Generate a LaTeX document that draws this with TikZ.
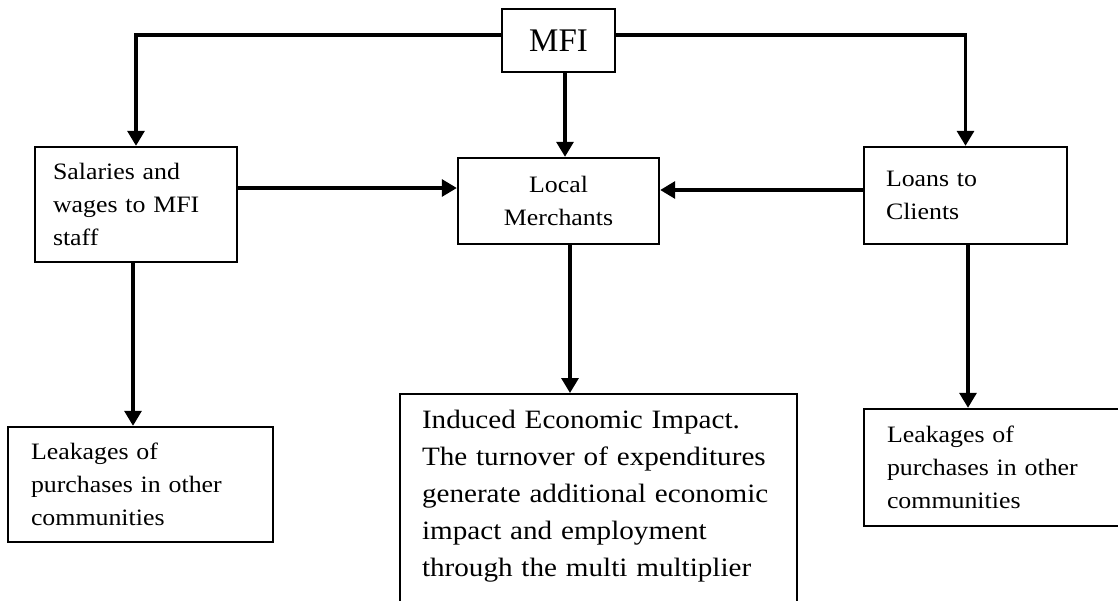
\documentclass[tikz,border=0pt]{standalone}
\usepackage{fontspec}
\setmainfont{Liberation Serif}[FakeStretch=1.1]
\newfontfamily\mfifont{Liberation Serif}
\usetikzlibrary{arrows.meta}
\begin{document}
\begin{tikzpicture}[x=1pt,y=-1pt,
  box/.style={draw=black, line width=2.4pt, rectangle, inner sep=0pt},
  smalltxt/.style={font=\fontsize{23.5}{33}\selectfont},
  arr/.style={line width=3.2pt, -{Triangle[width=17pt,length=15pt]}}]
\useasboundingbox (0,0) rectangle (1118,600);

\node[box, minimum width=113pt, minimum height=63pt, font=\mfifont\fontsize{33}{36}\selectfont] (mfi) at (558.5,40.5) {MFI};

\node[box, smalltxt, minimum width=202pt, minimum height=115pt, text width=166pt, align=left] (sal) at (136,204.5)
  {Salaries and\\wages to MFI\\staff};

\node[box, smalltxt, minimum width=201pt, minimum height=86pt, text width=180pt, align=center] (lm) at (558.5,201)
  {Local\\Merchants};

\node[box, smalltxt, minimum width=203pt, minimum height=97pt, text width=159pt, align=left] (loans) at (965.5,195.5)
  {Loans to\\Clients};

\node[box, smalltxt, minimum width=265pt, minimum height=115pt, text width=219pt, align=left] (leakl) at (140.5,484.5)
  {Leakages of\\purchases in other\\communities};

\node[box, smalltxt, minimum width=262pt, minimum height=117pt, text width=216pt, align=left] (leakr) at (995,467.5)
  {Leakages of\\purchases in other\\communities};

\node[box, font=\fontsize{26.5}{37}\selectfont, anchor=north, text width=353pt, inner xsep=22pt, inner ysep=0pt,
      text height=34pt, text depth=200pt, align=left] (ind) at (598.5,393)
  {Induced Economic Impact.\\The turnover of expenditures\\generate additional economic\\impact and employment\\through the multi multiplier};

% connectors
\draw[arr] (mfi.west |- 0,35) -| (sal.north);
\draw[arr] (mfi.east |- 0,35) -| (loans.north);
\draw[arr] (mfi.south -| 565,0) -- (lm.north -| 565,0);
\draw[arr] (sal.east |- 0,188) -- (lm.west |- 0,188);
\draw[arr] (loans.west |- 0,190) -- (lm.east |- 0,190);
\draw[arr] (sal.south -| 133,0) -- (leakl.north -| 133,0);
\draw[arr] (lm.south -| 570,0) -- (ind.north -| 570,0);
\draw[arr] (loans.south -| 968,0) -- (leakr.north -| 968,0);
\end{tikzpicture}
\end{document}
